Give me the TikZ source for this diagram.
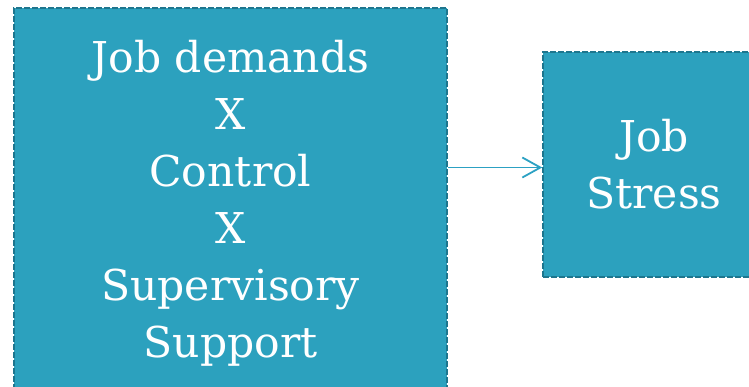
\documentclass[tikz,border=0pt]{standalone}
\usepackage{fontspec}
\setmainfont{DejaVu Serif}
\usetikzlibrary{arrows.meta}
\definecolor{boxfill}{RGB}{44,161,190}
\definecolor{boxline}{RGB}{30,118,142}
\definecolor{arrowcol}{RGB}{44,161,195}
\tikzset{
  boxstyle/.style={draw=boxline, fill=boxfill, line width=1.6pt,
    dash pattern=on 6pt off 2pt, text=white, align=center,
    font=\fontsize{42.5}{57}\selectfont, inner sep=0pt},
  arr/.style={draw=arrowcol, line width=1.8pt,
    -{Straight Barb[length=18pt,width=20pt,line width=1.8pt]}}
}
\begin{document}
\begin{tikzpicture}[x=1pt,y=-1pt]
\useasboundingbox (0,0) rectangle (749,386);
\clip (0,0) rectangle (749,386);
\node[boxstyle, minimum width=433pt, minimum height=390pt] (a) at (230.5,203)
  {Job demands\\X\\Control\\X\\Supervisory\\Support};
\node[boxstyle, minimum width=222pt, minimum height=225pt] (b) at (654,164.5)
  {Job\\Stress};
\coordinate (t) at ([yshift=-3pt]b.west);
\draw[arr] (a.east |- t) -- (t);
\end{tikzpicture}
\end{document}
